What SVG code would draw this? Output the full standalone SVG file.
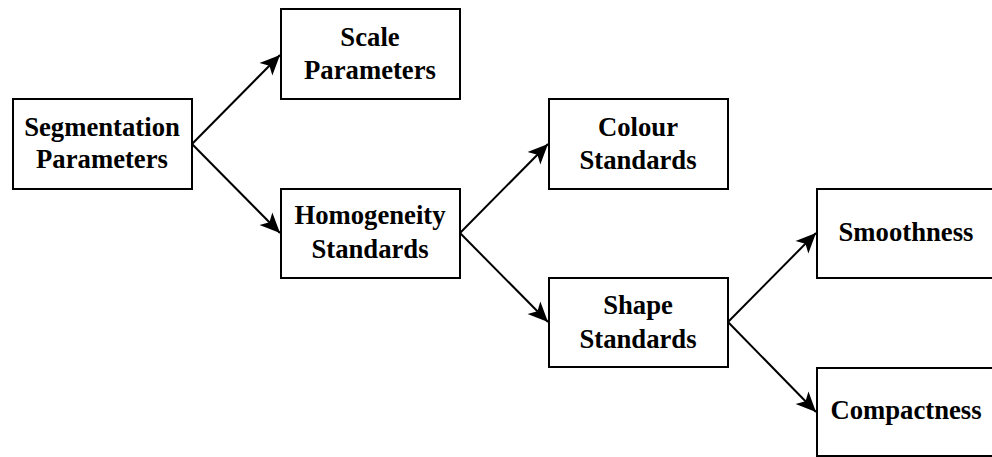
<svg xmlns="http://www.w3.org/2000/svg" width="992" height="457" viewBox="0 0 992 457">
  <style>
    .box { fill: #ffffff; stroke: #000000; stroke-width: 2; }
    .lbl { font-family: "Liberation Serif", "Times New Roman", serif; font-weight: bold; font-size: 26.7px; fill: #000000; text-anchor: middle; }
    .link { fill: none; stroke: #000000; stroke-width: 2; }
  </style>
  <defs>
    <marker id="arrow" markerUnits="userSpaceOnUse" markerWidth="24" markerHeight="22" viewBox="-22 -11 24 22" refX="0" refY="0" orient="auto">
      <path d="M0,0 L-20,-9 L-15,0 L-20,9 Z" fill="#000000"/>
    </marker>
  </defs>
  <rect width="992" height="457" fill="#ffffff"/>

  <g id="connectors">
    <line class="link" x1="192" y1="144" x2="280" y2="55" marker-end="url(#arrow)"/>
    <line class="link" x1="192" y1="144" x2="280" y2="233" marker-end="url(#arrow)"/>
    <line class="link" x1="460" y1="233" x2="548" y2="144" marker-end="url(#arrow)"/>
    <line class="link" x1="460" y1="233" x2="548" y2="322" marker-end="url(#arrow)"/>
    <line class="link" x1="728" y1="322" x2="816" y2="233" marker-end="url(#arrow)"/>
    <line class="link" x1="728" y1="322" x2="816" y2="412" marker-end="url(#arrow)"/>
  </g>

  <g id="segmentation-parameters">
    <rect class="box" x="13" y="99" width="179" height="90"/>
    <text class="lbl" x="102" y="136">Segmentation</text>
    <text class="lbl" x="102" y="168">Parameters</text>
  </g>

  <g id="scale-parameters">
    <rect class="box" x="281" y="9" width="179" height="90"/>
    <text class="lbl" x="370" y="46">Scale</text>
    <text class="lbl" x="370" y="79">Parameters</text>
  </g>

  <g id="homogeneity-standards">
    <rect class="box" x="281" y="189" width="179" height="89"/>
    <text class="lbl" x="370" y="224">Homogeneity</text>
    <text class="lbl" x="370" y="258">Standards</text>
  </g>

  <g id="colour-standards">
    <rect class="box" x="549" y="99" width="179" height="90"/>
    <text class="lbl" x="638" y="136">Colour</text>
    <text class="lbl" x="638" y="169">Standards</text>
  </g>

  <g id="shape-standards">
    <rect class="box" x="549" y="278" width="179" height="89"/>
    <text class="lbl" x="638" y="314">Shape</text>
    <text class="lbl" x="638" y="348">Standards</text>
  </g>

  <g id="smoothness">
    <rect class="box" x="817" y="189" width="180" height="89"/>
    <text class="lbl" x="906" y="241">Smoothness</text>
  </g>

  <g id="compactness">
    <rect class="box" x="817" y="368" width="180" height="88"/>
    <text class="lbl" x="906" y="419">Compactness</text>
  </g>
</svg>
